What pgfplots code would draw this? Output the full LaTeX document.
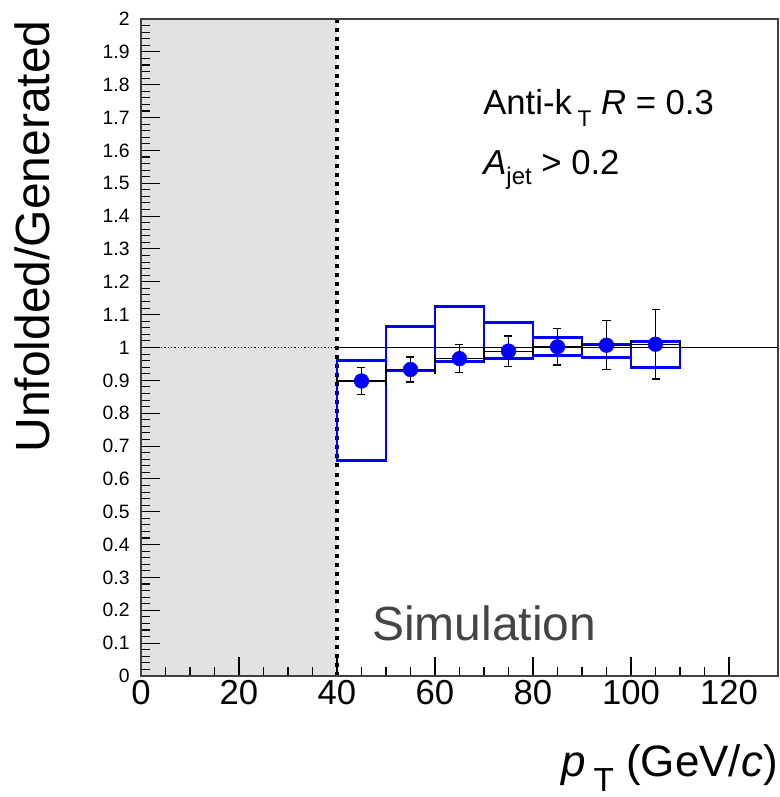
\documentclass[border=0pt]{standalone}
\usepackage{fontspec}
\setmainfont{Liberation Sans}
\usepackage{pgfplots}
\usepackage{pgfplotstable}
\pgfplotsset{compat=1.18}
\definecolor{rootblue}{RGB}{0,0,255}
\definecolor{shade}{RGB}{226,226,226}
\definecolor{simgray}{RGB}{68,68,68}
\pgfplotstableread{
x y ex ey
45 0.898 5 0.041
55 0.933 5 0.038
65 0.966 5 0.042
75 0.989 5 0.046
85 1.002 5 0.055
95 1.007 5 0.075
105 1.010 5 0.106
}\ratio
\begin{document}
\begin{tikzpicture}
\useasboundingbox (-105.75pt,-90.75pt) rectangle (479.25pt,507pt);
\begin{axis}[
  at={(0,0)}, anchor=south west,
  scale only axis, width=477.75pt, height=492.75pt,
  xmin=0, xmax=130, ymin=0, ymax=2,
  xtick={0,20,40,60,80,100,120}, minor x tick num=3,
  ytick={0,0.1,0.2,0.3,0.4,0.5,0.6,0.7,0.8,0.9,1,1.1,1.2,1.3,1.4,1.5,1.6,1.7,1.8,1.9,2},
  yticklabels={0,0.1,0.2,0.3,0.4,0.5,0.6,0.7,0.8,0.9,1,1.1,1.2,1.3,1.4,1.5,1.6,1.7,1.8,1.9,2},
  minor y tick num=4,
  tick align=inside, xtick pos=bottom, ytick pos=left,
  major tick length=14pt, minor tick length=7pt,
  tick style={black, line width=0.8pt},
  axis line style={line width=0.9pt, black!75},
  /pgf/number format/assume math mode=true,
  x tick label style={font=\fontsize{26}{26}\selectfont},
  y tick label style={font=\fontsize{14.5}{14.5}\selectfont, xshift=-5pt},
  axis on top,
  xlabel={\textit{p}\,\raisebox{-11pt}{\fontsize{25}{25}\selectfont T}\ (GeV/\textit{c})},
  xlabel style={font=\fontsize{33}{33}\selectfont, at={(axis description cs:1,-0.1537)}, anchor=base east, inner sep=0pt},
  ylabel={Unfolded/Generated},
  ylabel style={font=\fontsize{36}{36}\selectfont, at={(axis description cs:-0.1429,0.9985)}, anchor=base east, inner sep=0pt},
]
% shaded excluded region
\addplot[fill=shade, draw=none] coordinates {(0,0) (40,0) (40,2) (0,2)} -- cycle;
% reference lines
\addplot[black, line width=0.8pt] coordinates {(40,1) (130,1)};
\addplot[black, line width=0.8pt, dash pattern=on 1pt off 1.5pt] coordinates {(0,1) (40,1)};
\addplot[black, line width=2.6pt, dash pattern=on 3pt off 3.8pt] coordinates {(40,0) (40,2)};
% systematic boxes
\addplot[rootblue, line width=2.2pt] coordinates {(40,0.657) (50,0.657) (50,0.961) (40,0.961)} -- cycle;
\addplot[rootblue, line width=2.2pt] coordinates {(50,0.931) (60,0.931) (60,1.065) (50,1.065)} -- cycle;
\addplot[rootblue, line width=2.2pt] coordinates {(60,0.958) (70,0.958) (70,1.126) (60,1.126)} -- cycle;
\addplot[rootblue, line width=2.2pt] coordinates {(70,0.966) (80,0.966) (80,1.077) (70,1.077)} -- cycle;
\addplot[rootblue, line width=2.2pt] coordinates {(80,0.976) (90,0.976) (90,1.031) (80,1.031)} -- cycle;
\addplot[rootblue, line width=2.2pt] coordinates {(90,0.970) (100,0.970) (100,1.010) (90,1.010)} -- cycle;
\addplot[rootblue, line width=2.2pt] coordinates {(100,0.938) (110,0.938) (110,1.017) (100,1.017)} -- cycle;
% points with statistical errors
\addplot[only marks, mark=*, mark size=5.5pt, color=rootblue,
  error bars/.cd, x dir=both, x explicit, y dir=both, y explicit,
  error bar style={black, line width=0.9pt},
  error mark options={rotate=90, black, line width=0.9pt, mark size=3pt}]
  table[x=x, y=y, x error=ex, y error=ey] {\ratio};
% texts
\node[anchor=base west, inner sep=0pt, font=\fontsize{26}{26}\selectfont] at (axis description cs:0.537,0.854)
  {Anti-k\,\raisebox{-9pt}{\fontsize{17}{17}\selectfont T}\ \textit{R} = 0.3};
\node[anchor=base west, inner sep=0pt, font=\fontsize{26}{26}\selectfont] at (axis description cs:0.537,0.7626)
  {\textit{A}\raisebox{-7.5pt}{\fontsize{18}{18}\selectfont jet} > 0.2};
\node[anchor=base west, inner sep=0pt, font=\fontsize{36}{36}\selectfont, text=simgray] at (axis description cs:0.3626,0.0533)
  {Simulation};
\end{axis}
\end{tikzpicture}
\end{document}
